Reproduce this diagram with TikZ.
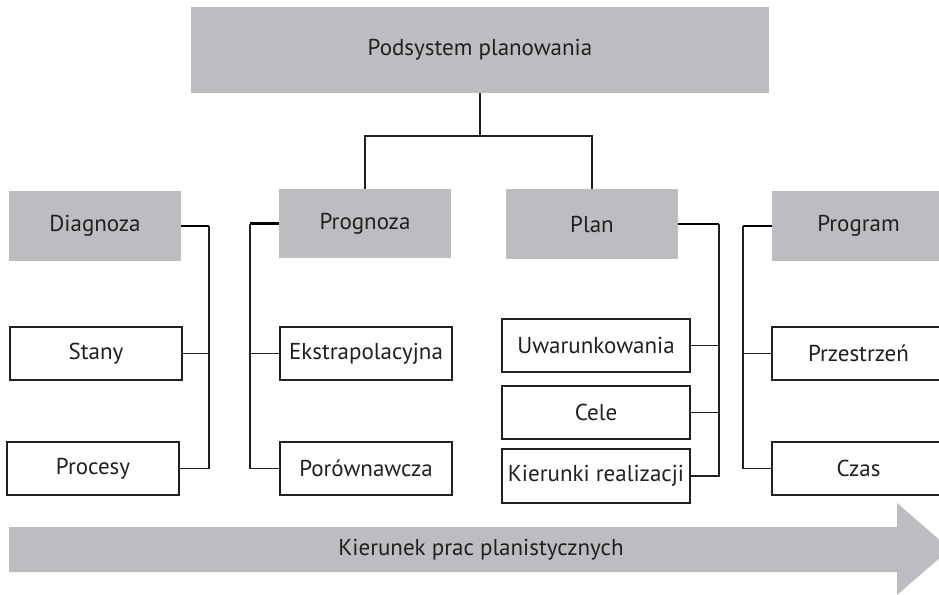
\documentclass[tikz,border=0pt]{standalone}
\usepackage{fontspec}
\setmainfont{PT Sans}
\definecolor{boxgray}{RGB}{188,189,192}
\definecolor{ink}{RGB}{35,31,32}
\begin{document}
\begin{tikzpicture}[x=1pt,y=-1pt,
  every node/.style={font=\fontsize{23}{27}\selectfont, text=ink, inner sep=0pt, outer sep=0pt},
  graybox/.style={fill=boxgray, draw=none, minimum width=172pt, minimum height=70pt},
  whitebox/.style={fill=white, draw=ink, line width=1.3pt, minimum width=172pt, minimum height=53pt},
  thinline/.style={draw=ink, line width=1.2pt},
  thickline/.style={draw=black, line width=2.8pt}]
\useasboundingbox (0,0) rectangle (939,594);
\clip (0,0) rectangle (939,594);
% top
\node[graybox, minimum width=578pt, minimum height=86pt] (top) at (480,50) {Podsystem planowania};
% level 2
\node[graybox] (diag) at (95,226) {Diagnoza};
\node[graybox, minimum height=69pt] (progn) at (365,223.5) {Prognoza};
\node[graybox] (plan) at (592,224) {Plan};
\node[graybox, minimum width=173pt] (progr) at (858.5,226) {Program};
% level 3
\node[whitebox] (stany) at (96,353.5) {Stany};
\node[whitebox] (proc) at (93,468.5) {Procesy};
\node[whitebox] (ekst) at (366,353.5) {Ekstrapolacyjna};
\node[whitebox] (poro) at (366,468.5) {Porównawcza};
\node[whitebox, minimum width=188pt] (uwar) at (596,345.5) {Uwarunkowania};
\node[whitebox, minimum width=188pt] (cele) at (596,412.5) {Cele};
\node[whitebox, minimum width=188pt, minimum height=54pt] (kier) at (596,476) {Kierunki realizacji};
\node[whitebox, minimum width=173pt] (przes) at (858.5,353.5) {Przestrzeń};
\node[whitebox, minimum width=173pt] (czas) at (858.5,468.5) {Czas};
% top connectors
\draw[thinline] (top.south) -- ++(0,43) coordinate (tj);
\draw[thinline] (progn.north) |- (tj) -| (plan.north);
% Diagnoza
\draw[thickline] (diag.east) -- ++(28,0) coordinate (dj);
\draw[thinline] (dj) |- (proc.east);
\draw[thinline] (stany.east) -- (stany.east -| dj);
% Prognoza
\draw[thickline] (progn.west) -- ++(-29,0) coordinate (pj);
\draw[thinline] (pj) |- (poro.west);
\draw[thinline] (ekst.west) -- (ekst.west -| pj);
% Plan
\draw[thickline] (plan.east) -- ++(41,0) coordinate (lj);
\draw[thinline] (lj) |- (kier.east);
\draw[thinline] (uwar.east) -- (uwar.east -| lj);
\draw[thinline] (cele.east) -- (cele.east -| lj);
% Program
\draw[thickline] (progr.west) -- ++(-29,0) coordinate (rj);
\draw[thinline] (rj) |- (czas.west);
\draw[thinline] (przes.west) -- (przes.west -| rj);
% arrow
\fill[boxgray] (9,527) -- (897,527) -- (897,503) -- (950,549) -- (897,595) -- (897,572) -- (9,572) -- cycle;
\node (arrowtext) at (481,549.5) {Kierunek prac planistycznych};
\end{tikzpicture}
\end{document}
